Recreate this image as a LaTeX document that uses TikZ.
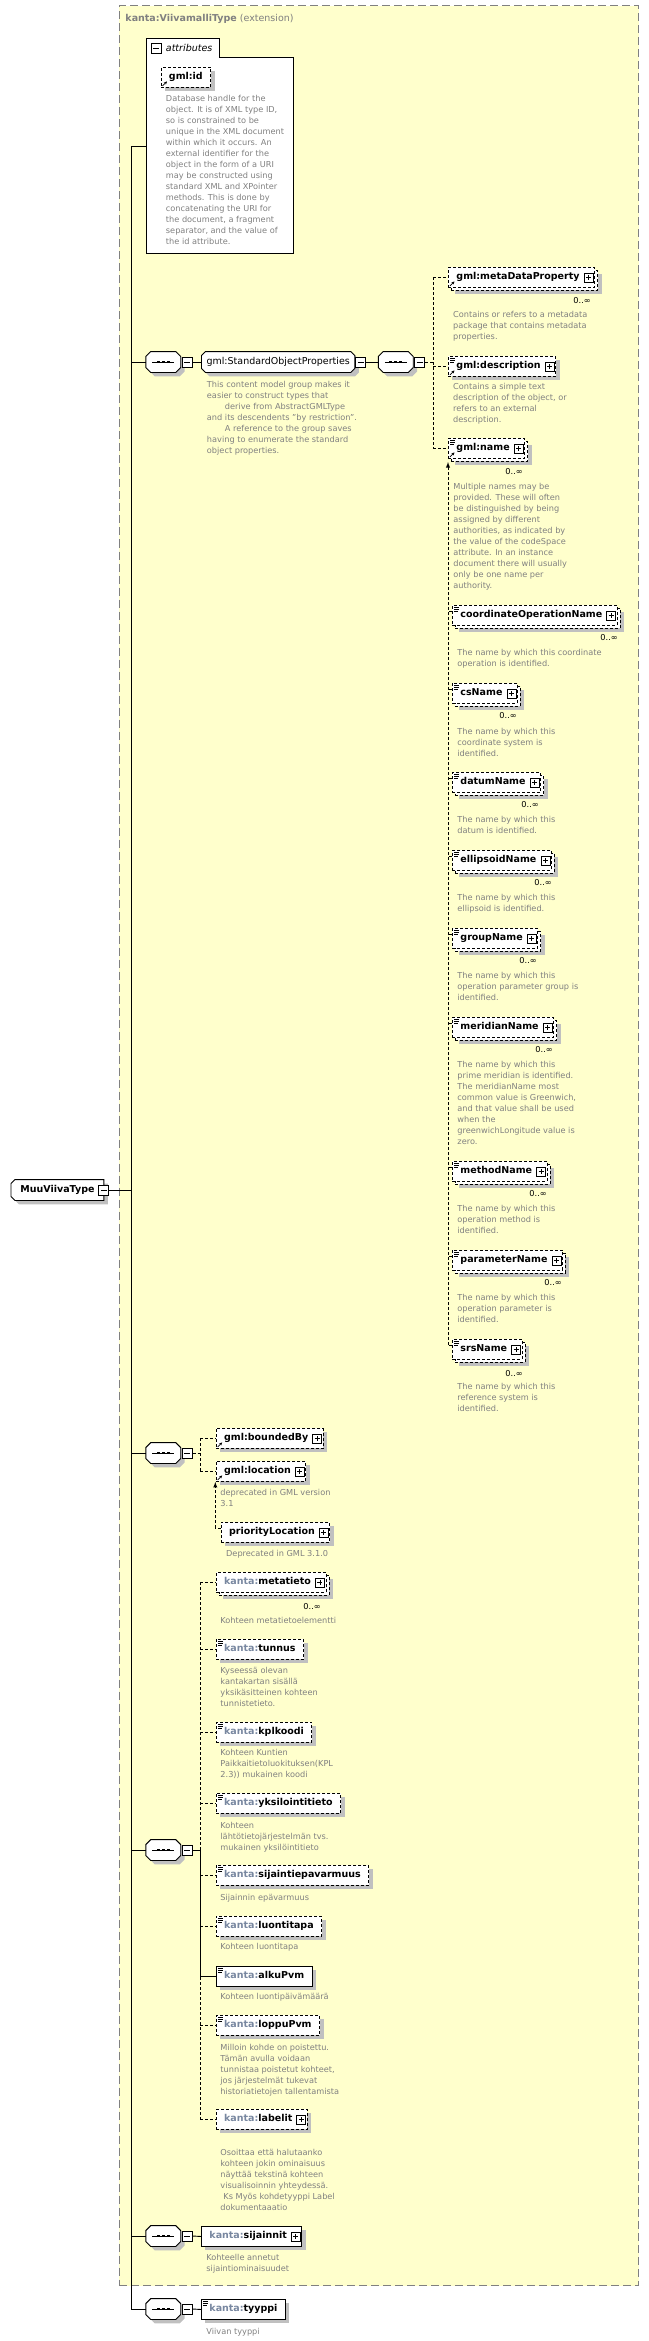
\documentclass[tikz,border=0pt]{standalone}
\usepackage{fontspec}
\setmainfont{DejaVu Sans}
\usetikzlibrary{arrows, arrows.meta, positioning}
\definecolor{yellowbg}{RGB}{255,255,204}
\definecolor{framegray}{RGB}{128,128,128}
\definecolor{shgray}{RGB}{192,192,192}
\definecolor{notegray}{RGB}{128,128,128}
\definecolor{kantacol}{RGB}{120,135,160}
\newcommand{\elfont}{\fontsize{9.5}{11}\selectfont\bfseries}
\newcommand{\nfont}{\fontsize{8.2}{11}\selectfont}
\newcommand{\kanta}{\textcolor{kantacol}{kanta:}}
\newcommand{\octo}[2]{([xshift=#2]#1.north west) -- ([xshift=-#2]#1.north east) -- ([yshift=-#2]#1.north east) -- ([yshift=#2]#1.south east) -- ([xshift=-#2]#1.south east) -- ([xshift=#2]#1.south west) -- ([yshift=#2]#1.south west) -- ([yshift=-#2]#1.north west) -- cycle}
\newcommand{\leftocto}[2]{([xshift=#2]#1.north west) -- (#1.north east) -- (#1.south east) -- ([xshift=#2]#1.south west) -- ([yshift=#2]#1.south west) -- ([yshift=-#2]#1.north west) -- cycle}
\begin{document}
\begin{tikzpicture}[x=1pt, y=-1pt, line width=0.9pt]
\tikzset{shad/.style={preaction={draw=none, fill=shgray, transform canvas={shift={(#1,-#1)}}}},
		once/.style={shad=4pt},
		many/.style={shad=7pt, preaction={draw, fill=white, transform canvas={shift={(3pt,-3pt)}}}},
		elem/.style={rectangle, draw, fill=white, font=\elfont, anchor=north west, minimum height=20pt, inner xsep=8pt, inner ysep=0pt, text height=7pt, text depth=2pt},
		opt/.style={dash pattern=on 3pt off 2pt},
		plus/.style={execute at end node={\hspace{7pt}}, postaction={path picture={
			\draw[solid, line width=0.8pt, fill=white] ([shift={(-10.5pt,-4.5pt)}]path picture bounding box.east) rectangle ([shift={(-1.5pt,4.5pt)}]path picture bounding box.east);
			\draw[solid, line width=0.8pt] ([xshift=-8.5pt]path picture bounding box.east) -- ([xshift=-3.5pt]path picture bounding box.east) ([shift={(-6pt,-2.5pt)}]path picture bounding box.east) -- ([shift={(-6pt,2.5pt)}]path picture bounding box.east);}}},
		simple/.style={postaction={path picture={
			\draw[solid, line width=0.7pt] ([shift={(2pt,-2pt)}]path picture bounding box.north west) -- ++(5pt,0pt) ([shift={(2pt,-4pt)}]path picture bounding box.north west) -- ++(5pt,0pt) ([shift={(2pt,-6pt)}]path picture bounding box.north west) -- ++(4pt,0pt);}}},
		ref/.style={postaction={path picture={
			\draw[solid, line width=0.8pt, -{Stealth[length=3pt, width=3pt]}] ([shift={(1.5pt,1.5pt)}]path picture bounding box.south west) -- ++(4.5pt,4.5pt);}}},
		seq/.style={rectangle, minimum width=34pt, minimum height=20pt, inner sep=0pt, append after command={\pgfextra{\let\pn\tikzlastnode
			\fill[shgray, transform canvas={shift={(4pt,-4pt)}}] \octo{\pn}{5pt};
			\draw[fill=white] \octo{\pn}{5pt};
			\draw ([xshift=-11pt]\pn.center) -- ([xshift=11pt]\pn.center);
			\fill ([shift={(-6.3pt,-1.3pt)}]\pn.center) rectangle ([shift={(-3.7pt,1.3pt)}]\pn.center);
			\fill ([shift={(-1.3pt,-1.3pt)}]\pn.center) rectangle ([shift={(1.3pt,1.3pt)}]\pn.center);
			\fill ([shift={(3.7pt,-1.3pt)}]\pn.center) rectangle ([shift={(6.3pt,1.3pt)}]\pn.center);}}},
		mbox/.style={rectangle, draw, fill=white, minimum size=10pt, inner sep=0pt, path picture={\draw ([xshift=-3pt]path picture bounding box.center) -- ([xshift=3pt]path picture bounding box.center);}},
		grp/.style={rectangle, minimum width=152.5pt, minimum height=20pt, inner sep=0pt, font=\fontsize{9.5}{11}\selectfont, append after command={\pgfextra{\let\pn\tikzlastnode
			\fill[shgray, transform canvas={shift={(4pt,-4pt)}}] \octo{\pn}{4pt};
			\draw[fill=white] \octo{\pn}{4pt};}}},
		rootbox/.style={rectangle, minimum width=92pt, minimum height=20pt, inner sep=0pt, font=\elfont, append after command={\pgfextra{\let\pn\tikzlastnode
			\fill[shgray, transform canvas={shift={(4pt,-4pt)}}] \leftocto{\pn}{4pt};
			\draw[fill=white] \leftocto{\pn}{4pt};}}},
		note/.style={font=\nfont, text=notegray, align=left, anchor=north west, inner sep=0pt},
		mult/.style={font=\nfont, anchor=west, inner sep=0pt},
		ext/.style={rectangle, draw=framegray, dash pattern=on 8pt off 4pt, fill=yellowbg, anchor=north west, minimum width=519.3pt, minimum height=2279.7pt, inner sep=0pt, line width=1pt}}
\useasboundingbox (0,0) rectangle (648,2341);
\node[ext] (extBox) at (118.7,5.3) {};
\node[anchor=west, inner sep=0pt, text=framegray, font=\fontsize{9.5}{11}\selectfont] (extTitle) at (125,19) {\textbf{kanta:ViivamalliType} (extension)};
\draw[fill=white] (146.5,57) -- (146.5,38) -- (219,38) -- (219,57) -- (293,57) -- (293,253) -- (146.5,253) -- cycle;
\node[mbox] (attrMinus) at (156.4,48) {};
\node[anchor=west, inner sep=0pt, font=\fontsize{9.5}{11}\selectfont\itshape] (attrLabel) at (165.5,47.5) {attributes};
\coordinate (attrs) at (146.5,146);
\node[elem, opt, once, ref] (gmlId) at (160.5,67) {gml:id};
\node[note] (gmlIdNote) at (165.5,94.5) {Database handle for the\\ object.  It is of XML type ID,\\ so is constrained to be\\ unique in the XML document\\ within which it occurs.  An\\ external identifier for the\\ object in the form of a URI\\ may be constructed using\\ standard XML and XPointer\\ methods.  This is done by\\ concatenating the URI for\\ the document, a fragment\\ separator, and the value of\\ the id attribute.};
\node[rootbox, anchor=west] (muuViiva) at (11,1190) {MuuViivaType\hspace{8pt}};
\node[mbox] (muuViivaMinus) at (muuViiva.east) {};
\coordinate (sptop) at (131.6,146);
\coordinate (spbot) at (131.6,2309);
\node[seq] (seqA) at (163.25,362) {};
\node[mbox, right=1pt of seqA] (seqAm) {};
\node[grp, anchor=west] (sop) at (201.5,362) {gml:StandardObjectProperties};
\node[mbox, right=0.5pt of sop] (sopm) {};
\node[note] (sopNote) at (206.5,380.5) {This content model group makes it\\ easier to construct types that\\ \hspace*{18pt}derive from AbstractGMLType\\ and its descendents "by restriction".\\ \hspace*{18pt}A reference to the group saves\\ having to enumerate the standard\\ object properties.};
\node[seq] (seqB) at (395.75,362) {};
\node[mbox, right=1pt of seqB] (seqBm) {};
\coordinate (brB) at (433,362);
\node[elem, opt, many, ref, plus] (metaProp) at (448,267) {gml:metaDataProperty};
\node[mult] (metaPropMult) at (573,301) {0..∞};
\node[note] (metaPropNote) at (452.7,311.2) {Contains or refers to a metadata\\ package that contains metadata\\ properties.};
\node[elem, opt, once, ref, simple, plus] (descr) at (448,356) {gml:description};
\node[note] (descrNote) at (452.7,382.5) {Contains a simple text\\ description of the object, or\\ refers to an external\\ description.};
\node[elem, opt, many, ref, simple, plus] (gmlName) at (448,438) {gml:name};
\node[mult] (gmlNameMult) at (505,472) {0..∞};
\node[note] (gmlNameNote) at (453,483.2) {Multiple names may be\\ provided.  These will often\\ be distinguished by being\\ assigned by different\\ authorities, as indicated by\\ the value of the codeSpace\\ attribute.  In an instance\\ document there will usually\\ only be one name per\\ authority.};
\coordinate (subTop) at (448,462);
\coordinate (subBot) at (448,1345);
\node[elem, opt, many, simple, plus] (coordOpName) at (452,605) {coordinateOperationName};
\node[mult] (coordOpMult) at (600,638) {0..∞};
\node[note] (coordOpNote) at (457,648.5) {The name by which this coordinate\\ operation is identified.};
\node[elem, opt, many, simple, plus] (csName) at (452,683) {csName};
\node[mult] (csMult) at (499,716) {0..∞};
\node[note] (csNote) at (457,727.5) {The name by which this\\ coordinate system is\\ identified.};
\node[elem, opt, many, simple, plus] (datumName) at (452,772) {datumName};
\node[mult] (datumMult) at (521,805) {0..∞};
\node[note] (datumNote) at (457,815.5) {The name by which this\\ datum is identified.};
\node[elem, opt, many, simple, plus] (ellName) at (452,850) {ellipsoidName};
\node[mult] (ellMult) at (534,883) {0..∞};
\node[note] (ellNote) at (457,893.5) {The name by which this\\ ellipsoid is identified.};
\node[elem, opt, many, simple, plus] (groupName) at (452,928) {groupName};
\node[mult] (groupMult) at (519,961) {0..∞};
\node[note] (groupNote) at (457,971.5) {The name by which this\\ operation parameter group is\\ identified.};
\node[elem, opt, many, simple, plus] (meridName) at (452,1017) {meridianName};
\node[mult] (meridMult) at (535,1050) {0..∞};
\node[note] (meridNote) at (457,1061.2) {The name by which this\\ prime meridian is identified.\\ The meridianName most\\ common value is Greenwich,\\ and that value shall be used\\ when the\\ greenwichLongitude value is\\ zero.};
\node[elem, opt, many, simple, plus] (methodName) at (452,1161) {methodName};
\node[mult] (methodMult) at (529,1194) {0..∞};
\node[note] (methodNote) at (457,1204.5) {The name by which this\\ operation method is\\ identified.};
\node[elem, opt, many, simple, plus] (paramName) at (452,1250) {parameterName};
\node[mult] (paramMult) at (544,1283) {0..∞};
\node[note] (paramNote) at (457,1293.5) {The name by which this\\ operation parameter is\\ identified.};
\node[elem, opt, many, simple, plus] (srsName) at (452,1339) {srsName};
\node[mult] (srsMult) at (505,1373) {0..∞};
\node[note] (srsNote) at (457,1382.5) {The name by which this\\ reference system is\\ identified.};
\node[seq] (seqC) at (163.25,1453) {};
\node[mbox, right=1pt of seqC] (seqCm) {};
\coordinate (brC) at (200,1453);
\node[elem, opt, once, ref, plus] (boundedBy) at (215.7,1428) {gml:boundedBy};
\node[elem, opt, once, ref, plus] (gmlLoc) at (215.7,1461) {gml:location};
\node[note] (gmlLocNote) at (220,1488.5) {deprecated in GML version\\ 3.1};
\node[elem, opt, once, plus] (prioLoc) at (220.7,1522) {priorityLocation};
\node[note] (prioLocNote) at (225.7,1549.5) {Deprecated in GML 3.1.0};
\coordinate (prioBot) at (215.3,1528);
\node[seq] (seqD) at (163.25,1850) {};
\node[mbox, right=1pt of seqD] (seqDm) {};
\coordinate (brD) at (200,1850);
\node[elem, opt, many, plus] (metatieto) at (215.7,1572) {\kanta metatieto};
\node[mult] (metatietoMult) at (303,1606) {0..∞};
\node[note] (metatietoNote) at (220,1616.5) {Kohteen metatietoelementti};
\node[elem, opt, once, simple] (tunnus) at (215.7,1639) {\kanta tunnus};
\node[note] (tunnusNote) at (220,1666.5) {Kyseessä olevan\\ kantakartan sisällä\\ yksikäsitteinen kohteen\\ tunnistetieto.};
\node[elem, opt, once, simple] (kplkoodi) at (215.7,1722) {\kanta kplkoodi};
\node[note] (kplkoodiNote) at (220,1748.5) {Kohteen Kuntien\\ Paikkaitietoluokituksen(KPL\\ 2.3)) mukainen koodi};
\node[elem, opt, once, simple] (yksilointi) at (215.7,1793) {\kanta yksilointitieto};
\node[note] (yksilointiNote) at (220,1821.5) {Kohteen\\ lähtötietojärjestelmän  tvs.\\ mukainen yksilöintitieto};
\node[elem, opt, once, simple] (epavarmuus) at (215.7,1865) {\kanta sijaintiepavarmuus};
\node[note] (epavarmuusNote) at (220,1893.5) {Sijainnin epävarmuus};
\node[elem, opt, once, simple] (luontitapa) at (215.7,1916) {\kanta luontitapa};
\node[note] (luontitapaNote) at (220,1942.5) {Kohteen luontitapa};
\node[elem, once, simple] (alkuPvm) at (215.7,1966) {\kanta alkuPvm};
\node[note] (alkuPvmNote) at (220,1992.5) {Kohteen luontipäivämäärä};
\node[elem, opt, once, simple] (loppuPvm) at (215.7,2015) {\kanta loppuPvm};
\node[note] (loppuPvmNote) at (220,2043.5) {Milloin kohde on poistettu.\\ Tämän avulla voidaan\\ tunnistaa poistetut kohteet,\\ jos järjestelmät tukevat\\ historiatietojen tallentamista};
\node[elem, opt, once, plus] (labelit) at (215.7,2109) {\kanta labelit};
\node[note] (labelitNote) at (220,2148.5) {Osoittaa että halutaanko\\ kohteen jokin ominaisuus\\ näyttää tekstinä kohteen\\ visualisoinnin yhteydessä.\\ \hspace*{3pt}Ks Myös kohdetyyppi Label\\ dokumentaaatio};
\node[seq] (seqE) at (163.25,2236) {};
\node[mbox, right=1pt of seqE] (seqEm) {};
\node[elem, once, plus] (sijainnit) at (201,2226) {\kanta sijainnit};
\node[note] (sijainnitNote) at (206,2253.5) {Kohteelle annetut\\ sijaintiominaisuudet};
\node[seq] (seqF) at (163.25,2309) {};
\node[mbox, right=1pt of seqF] (seqFm) {};
\node[elem, once, simple] (tyyppi) at (201,2299) {\kanta tyyppi};
\node[note] (tyyppiNote) at (206,2327.5) {Viivan tyyppi};
\draw (attrs) -- (sptop) -- (spbot) -- (seqF.west);
\draw (muuViivaMinus.east) -- (muuViivaMinus.east -| sptop);
\draw (seqA.west) -- (seqA.west -| sptop);
\draw (seqC.west) -- (seqC.west -| sptop);
\draw (seqD.west) -- (seqD.west -| sptop);
\draw (seqE.west) -- (seqE.west -| sptop);
\draw (seqAm.east) -- (sop.west);
\draw (sopm.east) -- (seqB.west);
\draw[opt] (seqBm.east) -- (brB);
\draw[opt] (brB |- metaProp.west) -- (brB |- gmlName.west);
\draw[opt] (brB |- metaProp.west) -- (metaProp.west);
\draw[opt] (brB |- descr.west) -- (descr.west);
\draw[opt] (brB |- gmlName.west) -- (gmlName.west);
\draw[opt, -latex] (subBot) -- (subTop);
\draw[opt] ([yshift=-6pt]coordOpName.north west) -- ++(-4pt,0pt);
\draw[opt] ([yshift=-6pt]csName.north west) -- ++(-4pt,0pt);
\draw[opt] ([yshift=-6pt]datumName.north west) -- ++(-4pt,0pt);
\draw[opt] ([yshift=-6pt]ellName.north west) -- ++(-4pt,0pt);
\draw[opt] ([yshift=-6pt]groupName.north west) -- ++(-4pt,0pt);
\draw[opt] ([yshift=-6pt]meridName.north west) -- ++(-4pt,0pt);
\draw[opt] ([yshift=-6pt]methodName.north west) -- ++(-4pt,0pt);
\draw[opt] ([yshift=-6pt]paramName.north west) -- ++(-4pt,0pt);
\draw[opt] ([yshift=-6pt]srsName.north west) -- ++(-4pt,0pt);
\draw[opt] (seqCm.east) -- (brC);
\draw[opt] (brC |- boundedBy.west) -- (brC |- gmlLoc.west);
\draw[opt] (brC |- boundedBy.west) -- (boundedBy.west);
\draw[opt] (brC |- gmlLoc.west) -- (gmlLoc.west);
\draw[opt, -latex] (prioBot) -- (prioBot |- gmlLoc.south);
\draw[opt] ([yshift=-6pt]prioLoc.north west) -- (prioBot);
\draw (seqDm.east) -- (brD);
\draw[opt] (brD |- metatieto.west) -- (brD |- labelit.west);
\draw[opt] (brD |- metatieto.west) -- (metatieto.west);
\draw[opt] (brD |- tunnus.west) -- (tunnus.west);
\draw[opt] (brD |- kplkoodi.west) -- (kplkoodi.west);
\draw[opt] (brD |- yksilointi.west) -- (yksilointi.west);
\draw[opt] (brD |- epavarmuus.west) -- (epavarmuus.west);
\draw[opt] (brD |- luontitapa.west) -- (luontitapa.west);
\draw[opt] (brD |- loppuPvm.west) -- (loppuPvm.west);
\draw[opt] (brD |- labelit.west) -- (labelit.west);
\draw (brD) -- (brD |- alkuPvm.west) -- (alkuPvm.west);
\draw (seqEm.east) -- (sijainnit.west);
\draw (seqFm.east) -- (tyyppi.west);
\end{tikzpicture}
\end{document}
